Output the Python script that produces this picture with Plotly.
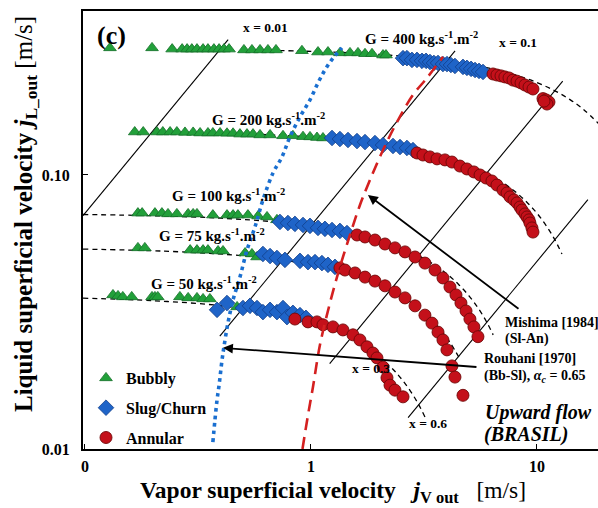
import math
import plotly.graph_objects as go

# ---------------- data ----------------
# G = 400 kg/(s m2)
g400_bubbly_jv = [0.129, 0.198, 0.243, 0.269, 0.283, 0.297, 0.313, 0.333, 0.350, 0.372, 0.392, 0.412, 0.434, 0.505, 0.548, 0.595, 0.645, 0.700, 0.912, 1.074, 1.189, 1.343, 1.488, 1.614, 1.734, 1.862, 2.083, 2.147]
g400_bubbly_jl = [0.291, 0.291, 0.288, 0.288, 0.288, 0.288, 0.288, 0.288, 0.288, 0.288, 0.288, 0.288, 0.288, 0.286, 0.286, 0.286, 0.286, 0.286, 0.284, 0.281, 0.281, 0.279, 0.279, 0.279, 0.277, 0.277, 0.274, 0.274]
g400_slug_jv = [2.554, 2.659, 2.798, 2.945, 3.098, 3.23, 3.361, 3.50, 3.648, 3.837, 3.996, 4.16, 4.336, 4.705, 4.898, 5.11, 5.32, 5.54, 5.77]
g400_slug_jl = [0.267, 0.267, 0.263, 0.263, 0.261, 0.261, 0.2585, 0.2564, 0.2564, 0.254, 0.254, 0.252, 0.250, 0.248, 0.246, 0.244, 0.2417, 0.2398, 0.2377]
g400_annular_jv = [6.39, 6.65, 6.93, 7.21, 7.52, 7.83, 8.16, 8.50, 8.85, 9.22, 9.60, 10.63, 10.96, 11.30, 11.07, 10.74]
g400_annular_jl = [0.2337, 0.2317, 0.230, 0.228, 0.226, 0.222, 0.220, 0.2168, 0.213, 0.2094, 0.206, 0.190, 0.188, 0.1846, 0.1815, 0.186]

# G = 200
g200_bubbly_jv = [0.166, 0.181, 0.208, 0.221, 0.238, 0.255, 0.277, 0.301, 0.323, 0.350, 0.368, 0.396, 0.425, 0.452, 0.485, 0.521, 0.554, 0.595, 0.659, 0.752, 0.832, 0.922, 0.990, 1.063, 1.130]
g200_bubbly_jl = [0.1435, 0.1435, 0.1435, 0.1435, 0.1435, 0.1435, 0.143, 0.143, 0.1423, 0.1423, 0.1423, 0.1423, 0.142, 0.142, 0.141, 0.141, 0.141, 0.140, 0.140, 0.139, 0.139, 0.138, 0.1377, 0.137, 0.1365]
g200_slug_jv = [1.239, 1.343, 1.458, 1.598, 1.734, 1.919, 2.083, 2.306, 2.477, 2.659, 2.827]
g200_slug_jl = [0.1365, 0.1353, 0.1342, 0.133, 0.1319, 0.1308, 0.1286, 0.1276, 0.1265, 0.1255, 0.1233]
g200_annular_jv = [2.945, 3.130, 3.361, 3.61, 3.915, 4.205, 4.561, 4.898, 5.26, 5.60, 5.95, 6.32, 6.65, 7.07, 7.37, 7.60, 7.91, 8.16, 8.41, 8.58, 8.85, 9.03, 9.22, 9.31, 9.50, 9.60]
g200_annular_jl = [0.1203, 0.1183, 0.1164, 0.1145, 0.1135, 0.1115, 0.1078, 0.1052, 0.1026, 0.100, 0.0975, 0.0951, 0.0919, 0.0881, 0.0860, 0.0832, 0.0811, 0.0791, 0.0764, 0.0745, 0.0721, 0.0703, 0.0686, 0.0668, 0.0641, 0.0619]

# G = 100
g100_bubbly_jv = [0.1715, 0.179, 0.204, 0.219, 0.233, 0.255, 0.286, 0.301, 0.313, 0.368, 0.425, 0.452, 0.475, 0.526, 0.583, 0.639, 0.707]
g100_bubbly_jl = [0.0726, 0.0726, 0.0726, 0.0726, 0.0721, 0.0721, 0.0721, 0.0721, 0.0721, 0.0714, 0.0714, 0.0714, 0.0714, 0.0714, 0.0708, 0.0703, 0.0686]
g100_slug_jv = [0.729, 0.791, 0.849, 0.922, 0.990, 1.074, 1.153, 1.239, 1.343, 1.443]
g100_slug_jl = [0.0674, 0.0668, 0.0663, 0.0657, 0.0652, 0.0641, 0.0636, 0.0630, 0.0625, 0.0614]
g100_annular_jv = [1.598, 1.734, 1.919, 2.125, 2.353, 2.606, 2.886, 3.193, 3.538, 3.837, 4.121, 4.381, 4.608, 4.853, 5.05, 5.26, 5.48]
g100_annular_jl = [0.0604, 0.0594, 0.0579, 0.0560, 0.0542, 0.0524, 0.0502, 0.0477, 0.0450, 0.0421, 0.0390, 0.0365, 0.0341, 0.0319, 0.0298, 0.0279, 0.0257]

# G = 75
g75_bubbly_jv = [0.1715, 0.184, 0.292, 0.313, 0.333, 0.350, 0.388, 0.408, 0.511, 0.548, 0.577]
g75_bubbly_jl = [0.0542, 0.0542, 0.0532, 0.0532, 0.0532, 0.0532, 0.0528, 0.0528, 0.0519, 0.0515, 0.0502]
g75_slug_jv = [0.613, 0.659, 0.707, 0.767, 0.894, 0.970, 1.042, 1.118, 1.189, 1.277]
g75_slug_jl = [0.0515, 0.0506, 0.0498, 0.0490, 0.0486, 0.0481, 0.0481, 0.0477, 0.0470, 0.0462]
g75_annular_jv = [1.343, 1.414, 1.566, 1.734, 1.919, 2.125, 2.353, 2.606, 2.886, 3.193, 3.43, 3.648, 3.837, 3.996, 4.205, 4.336, 4.705]
g75_annular_jl = [0.0458, 0.0450, 0.0439, 0.0424, 0.0410, 0.0394, 0.0374, 0.0356, 0.0333, 0.0308, 0.0288, 0.0267, 0.0250, 0.0230, 0.0201, 0.0183, 0.0157]

# G = 50
g50_bubbly_jv = [0.133, 0.140, 0.147, 0.161, 0.198, 0.204, 0.210, 0.263, 0.286, 0.313, 0.333, 0.357, 0.471]
g50_bubbly_jl = [0.0365, 0.0362, 0.0359, 0.0359, 0.0359, 0.0359, 0.0359, 0.0359, 0.0356, 0.0356, 0.0353, 0.0353, 0.0330]
g50_slug_jv = [0.384, 0.425, 0.500, 0.537, 0.577, 0.613, 0.659, 0.707, 0.752, 0.783, 0.832, 0.894, 0.950]
g50_slug_jl = [0.0322, 0.0341, 0.0327, 0.0333, 0.0327, 0.0316, 0.0322, 0.0316, 0.0327, 0.0303, 0.0314, 0.0308, 0.0301]
g50_annular_jv = [0.849, 0.970, 1.063, 1.130, 1.251, 1.385, 1.534, 1.647, 1.769, 1.880, 1.959, 2.083, 2.169, 2.237, 2.353, 2.554]
g50_annular_jl = [0.0298, 0.0291, 0.0291, 0.0284, 0.0279, 0.0272, 0.0261, 0.0250, 0.0236, 0.0224, 0.0215, 0.0199, 0.0182, 0.0171, 0.0164, 0.0155]

# constant-G curves (dashed)
curve_g400_jv = [0.55, 1.0, 1.6, 2.4, 3.2, 4.0, 5.2, 6.4, 8.0, 10.0, 12.0, 14.0, 16.0, 18.8]
curve_g400_jl = [0.2859, 0.2826, 0.2783, 0.2725, 0.2667, 0.2609, 0.2522, 0.2435, 0.2319, 0.2174, 0.2029, 0.1884, 0.1739, 0.1536]
curve_g200_jv = [0.2, 0.4, 0.8, 1.4, 2.0, 3.0, 4.0, 5.0, 6.0, 7.0, 8.0, 9.0, 10.0, 11.0, 12.0, 12.9]
curve_g200_jl = [0.1435, 0.1420, 0.1391, 0.1348, 0.1304, 0.1232, 0.1159, 0.1087, 0.1015, 0.0942, 0.0870, 0.0797, 0.0725, 0.0652, 0.0580, 0.0515]
curve_g100_jv = [0.098, 0.2, 0.4, 0.7, 1.0, 1.5, 2.0, 2.5, 3.0, 3.5, 4.0, 4.5, 5.0, 5.5, 6.0, 6.4]
curve_g100_jl = [0.07175, 0.07101, 0.06957, 0.06739, 0.06522, 0.06159, 0.05797, 0.05435, 0.05072, 0.04710, 0.04348, 0.03986, 0.03623, 0.03261, 0.02899, 0.02609]
curve_g75_jv = [0.098, 0.225, 0.45, 0.75, 1.125, 1.5, 1.875, 2.25, 2.625, 3.0, 3.375, 3.75, 4.125, 4.575]
curve_g75_jl = [0.05364, 0.05272, 0.05109, 0.04891, 0.04620, 0.04348, 0.04076, 0.03804, 0.03533, 0.03261, 0.02989, 0.02717, 0.02446, 0.02120]
curve_g50_jv = [0.098, 0.2, 0.4, 0.75, 1.25, 1.75, 2.25, 2.5, 2.75, 3.0, 3.2]
curve_g50_jl = [0.03552, 0.03478, 0.03333, 0.03080, 0.02717, 0.02355, 0.01993, 0.01812, 0.01630, 0.01449, 0.01304]

# constant vapor-quality lines
quality_labels = ["x = 0.01", "x = 0.1", "x = 0.3", "x = 0.6"]
quality_jv_start = [0.098, 0.395, 1.21, 2.69]
quality_jl_start = [0.0711, 0.0258, 0.0205, 0.01302]
quality_jv_end = [0.43, 4.34, 13.0, 16.8]
quality_jl_end = [0.312, 0.2838, 0.2202, 0.0813]

# Rouhani [1970] bubbly-slug transition (blue dotted)
rouhani_jv = [0.368, 0.376, 0.384, 0.392, 0.404, 0.412, 0.429, 0.452, 0.485, 0.521, 0.565, 0.613, 0.679, 0.744, 0.807, 0.894, 0.990, 1.074, 1.153, 1.251, 1.371]
rouhani_jl = [0.0106, 0.0128, 0.0151, 0.0171, 0.0211, 0.0236, 0.0288, 0.0350, 0.0424, 0.0532, 0.0646, 0.0811, 0.1017, 0.1164, 0.1377, 0.163, 0.188, 0.2168, 0.2417, 0.267, 0.291]

# Mishima [1984] slug-annular transition (red dashed)
mishima_jv = [0.917, 0.970, 1.02, 1.096, 1.213, 1.343, 1.488, 1.647, 1.824, 2.083, 2.402, 2.827, 3.26, 3.837]
mishima_jl = [0.0100, 0.0133, 0.0168, 0.0240, 0.0341, 0.0462, 0.0604, 0.0777, 0.0959, 0.1233, 0.156, 0.196, 0.226, 0.270]

x_tick_vals = [0.1, 1, 10]
x_tick_text = ["0", "1", "10"]
y_tick_vals = [0.01, 0.1]
y_tick_text = ["0.01", "0.10"]

# ---------------- figure ----------------
W, H = 598, 508
ML, MR, MT, MB = 83, 0, 11, 59
SERIF = "Liberation Serif"


def px_x(px):
    return (px - ML) / (W - ML - MR)


def px_y(py):
    return (H - MB - py) / (H - MT - MB)


fig = go.Figure()

# constant quality lines
for i in range(len(quality_labels)):
    fig.add_trace(go.Scatter(
        x=[quality_jv_start[i], quality_jv_end[i]],
        y=[quality_jl_start[i], quality_jl_end[i]],
        mode="lines", line=dict(color="black", width=1.1),
        showlegend=False, hoverinfo="skip"))

# constant G dashed curves
for cx, cy in [(curve_g400_jv, curve_g400_jl), (curve_g200_jv, curve_g200_jl),
               (curve_g100_jv, curve_g100_jl), (curve_g75_jv, curve_g75_jl),
               (curve_g50_jv, curve_g50_jl)]:
    fig.add_trace(go.Scatter(
        x=cx, y=cy, mode="lines",
        line=dict(color="black", width=1.3, dash="5px,4px", shape="spline"),
        showlegend=False, hoverinfo="skip"))

bubbly_jv = g400_bubbly_jv + g200_bubbly_jv + g100_bubbly_jv + g75_bubbly_jv + g50_bubbly_jv
bubbly_jl = g400_bubbly_jl + g200_bubbly_jl + g100_bubbly_jl + g75_bubbly_jl + g50_bubbly_jl
slug_jv = g400_slug_jv + g200_slug_jv + g100_slug_jv + g75_slug_jv + g50_slug_jv
slug_jl = g400_slug_jl + g200_slug_jl + g100_slug_jl + g75_slug_jl + g50_slug_jl
annular_jv = g400_annular_jv + g200_annular_jv + g100_annular_jv + g75_annular_jv + g50_annular_jv
annular_jl = g400_annular_jl + g200_annular_jl + g100_annular_jl + g75_annular_jl + g50_annular_jl

fig.add_trace(go.Scatter(
    x=bubbly_jv, y=bubbly_jl, mode="markers", name="<b>Bubbly</b>",
    legendgroup="a",
    marker=dict(symbol="triangle-up", size=11, color="#22a03a",
                line=dict(color="#15702a", width=0.8))))
fig.add_trace(go.Scatter(
    x=slug_jv, y=slug_jl, mode="markers", name="<b>Slug/Churn</b>",
    legendgroup="b",
    marker=dict(symbol="diamond", size=12, color="#1f64c8",
                line=dict(color="#123f8a", width=0.8))))
fig.add_trace(go.Scatter(
    x=annular_jv, y=annular_jl, mode="markers", name="<b>Annular</b>",
    legendgroup="c",
    marker=dict(symbol="circle", size=12, color="#c4101a",
                line=dict(color="#700808", width=0.9))))

# transition criteria
fig.add_trace(go.Scatter(
    x=rouhani_jv, y=rouhani_jl, mode="lines",
    line=dict(color="#1a6fd0", width=3.6, dash="3.6px,4px", shape="spline"),
    showlegend=False, hoverinfo="skip"))
fig.add_trace(go.Scatter(
    x=mishima_jv, y=mishima_jl, mode="lines",
    line=dict(color="#d42020", width=2.6, dash="12px,7px", shape="spline"),
    showlegend=False, hoverinfo="skip"))

axis_common = dict(
    type="log", showgrid=False, zeroline=False, showline=True,
    linecolor="black", linewidth=2, ticks="inside", ticklen=5,
    tickwidth=1.3, tickcolor="black", automargin=False,
    tickfont=dict(family=SERIF, size=16, color="black", weight="bold"),
)

fig.update_layout(
    width=W, height=H, autosize=False,
    margin=dict(l=ML, r=MR, t=MT, b=MB, pad=0),
    paper_bgcolor="white", plot_bgcolor="white",
    font=dict(family=SERIF, color="black"),
    xaxis=dict(range=[-1.0088, 1.270], tickvals=x_tick_vals, ticktext=x_tick_text,
               mirror=True, ticklabelstandoff=2, **axis_common),
    yaxis=dict(range=[-2.0, -0.4015], tickvals=y_tick_vals, ticktext=y_tick_text,
               ticklabelstandoff=8, **axis_common),
    legend=dict(x=px_x(86), y=px_y(361), xanchor="left", yanchor="top",
                bgcolor="rgba(0,0,0,0)", tracegroupgap=6,
                font=dict(family=SERIF, size=16, color="black"),
                itemwidth=30),
    showlegend=True,
)


def label(text, px, py, size=14, xanchor="center", color="black"):
    fig.add_annotation(text=text, x=px_x(px), y=px_y(py), xref="paper", yref="paper",
                       xanchor=xanchor, yanchor="middle", showarrow=False,
                       font=dict(family=SERIF, size=size, color=color))


label("<b>(c)</b>", 111, 35, size=26)
label("<b>x = 0.01</b>", 265, 28, size=13.5)
label("<b>x = 0.1</b>", 518, 42, size=13.5)
label("<b>x = 0.3</b>", 371, 368, size=13.5)
label("<b>x = 0.6</b>", 428, 423, size=13.5)
label("<b>G = 400 kg.s<sup>-1</sup>.m<sup>-2</sup></b>", 421, 38, size=15)
label("<b>G = 200 kg.s<sup>-1</sup>.m<sup>-2</sup></b>", 268, 119, size=15)
label("<b>G = 100 kg.s<sup>-1</sup>.m<sup>-2</sup></b>", 228, 195, size=15)
label("<b>G = 75 kg.s<sup>-1</sup>.m<sup>-2</sup></b>", 212, 235, size=15)
label("<b>G = 50 kg.s<sup>-1</sup>.m<sup>-2</sup></b>", 204, 283, size=15)
label("<b>Mishima [1984]</b>", 503, 322, size=14, xanchor="left")
label("<b>(Sl-An)</b>", 503, 339, size=14, xanchor="left")
label("<b>Rouhani [1970]</b>", 482, 358, size=14, xanchor="left")
label("<b>(Bb-Sl), <i>α</i><sub><i>c</i></sub> = 0.65</b>", 482, 376, size=14, xanchor="left")
label("<b><i>Upward flow</i></b>", 483, 412, size=20, xanchor="left")
label("<b><i>(BRASIL)</i></b>", 482, 434, size=20, xanchor="left")

# axis titles
label("<b>Vapor superficial velocity</b>\u00a0\u00a0\u00a0<b><i>j</i></b><sub><b>V\u00a0out</b></sub>\u00a0\u00a0\u00a0[m/s]",
      333, 492, size=23.5)
fig.add_annotation(
    text="<b>Liquid superficial velocity</b>\u00a0<b><i>j</i></b><sub><b>L_out</b></sub>\u00a0[m/s]",
    x=px_x(25), y=px_y(214), xref="paper", yref="paper", textangle=-90,
    xanchor="center", yanchor="middle", showarrow=False,
    font=dict(family=SERIF, size=25, color="black"))

# arrows (head, tail) in data coordinates
for head, tail in [((1.787, 0.0845), (8.41, 0.0322)), ((0.408, 0.0234), (5.48, 0.0199))]:
    fig.add_annotation(
        x=math.log10(head[0]), y=math.log10(head[1]),
        ax=math.log10(tail[0]), ay=math.log10(tail[1]),
        xref="x", yref="y", axref="x", ayref="y", text="",
        showarrow=True, arrowhead=2, arrowsize=1.1, arrowwidth=1.8, arrowcolor="black")

fig.write_html("out.html", config={"displayModeBar": False},
               post_script="document.body.style.margin='0px';document.body.style.overflow='hidden';")
